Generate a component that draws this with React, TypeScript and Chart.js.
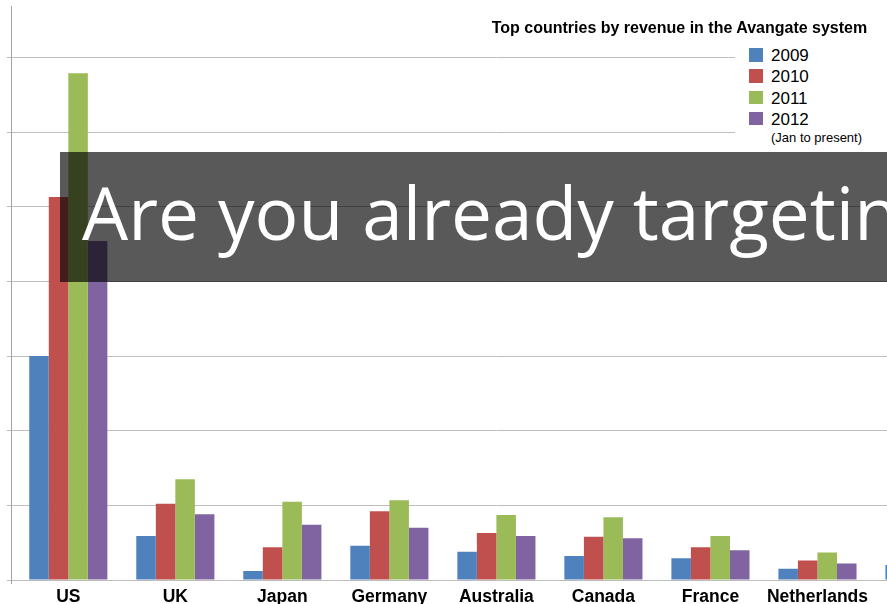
import React, { useEffect, useRef } from "react";
import { Chart, registerables } from "chart.js";

Chart.register(...registerables);

const categories = ["US", "UK", "Japan", "Germany", "Australia", "Canada", "France", "Netherlands", ""];
const seriesNames = ["2009", "2010", "2011", "2012"];
const v2009 = [3.0, 0.59, 0.12, 0.46, 0.38, 0.32, 0.29, 0.15, 0.2];
const v2010 = [5.13, 1.02, 0.44, 0.92, 0.63, 0.58, 0.44, 0.26, null];
const v2011 = [6.79, 1.35, 1.05, 1.07, 0.87, 0.84, 0.59, 0.37, null];
const v2012 = [4.54, 0.88, 0.74, 0.7, 0.59, 0.56, 0.4, 0.22, null];
const seriesColors = ["#4F81BD", "#C0504D", "#9BBB59", "#8064A2"];
const chartTitle = "Top countries by revenue in the Avangate system";
const legendNote = "(Jan to present)";
const bannerText = "Are you already targeting";

const FONT = "'Liberation Sans', Arial, sans-serif";

export default function App() {
  const ref = useRef<HTMLCanvasElement | null>(null);

  useEffect(() => {
    if (!ref.current) return;
    const axisLine = {
      id: "axisLine",
      afterDraw(chart: any) {
        const { ctx, chartArea } = chart;
        ctx.save();
        ctx.strokeStyle = "#a4a4a4";
        ctx.lineWidth = 1;
        ctx.beginPath();
        ctx.moveTo(11.5, chartArea.top);
        ctx.lineTo(11.5, chartArea.bottom + 4);
        ctx.stroke();
        ctx.restore();
      },
    };
    const seriesValues = [v2009, v2010, v2011, v2012];
    const chart = new Chart(ref.current, {
      type: "bar",
      data: {
        labels: categories,
        datasets: seriesNames.map((n, i) => ({
          label: n,
          data: seriesValues[i] as any,
          backgroundColor: seriesColors[i],
          borderWidth: 0,
          barPercentage: 1,
          categoryPercentage: 0.73,
        })),
      },
      options: {
        responsive: false,
        animation: false,
        devicePixelRatio: 1,
        layout: { padding: { top: 6, left: 0, right: 0, bottom: 0 } },
        plugins: { legend: { display: false }, tooltip: { enabled: false }, title: { display: false } },
        scales: {
          x: {
            grid: { display: false },
            border: { display: false },
            ticks: {
              padding: -1,
              color: "#000",
              font: { family: FONT, size: 17.5, weight: "bold" },
              maxRotation: 0,
              autoSkip: false,
            },
            afterFit: (s: any) => {
              s.height = 24;
            },
          },
          y: {
            min: 0,
            max: 7.69,
            border: { display: false },
            grid: { color: "#bdbdbd", lineWidth: 1, drawTicks: true, tickLength: 8 },
            ticks: { stepSize: 1, includeBounds: false, display: false },
            afterFit: (s: any) => {
              s.width = 14.8;
            },
          },
        },
      },
      plugins: [axisLine],
    });
    return () => chart.destroy();
  }, []);

  return (
    <div
      style={{
        position: "fixed",
        left: 0,
        top: 0,
        width: 887,
        height: 604,
        overflow: "hidden",
        background: "#fff",
      }}
    >
      <canvas ref={ref} width={978} height={604} style={{ display: "block", width: 978, height: 604 }} />
      <div
        style={{
          position: "absolute",
          left: 491.7,
          top: 18.8,
          fontFamily: FONT,
          fontWeight: "bold",
          fontSize: 16,
          lineHeight: "normal",
          whiteSpace: "nowrap",
          color: "#000",
        }}
      >
        {chartTitle}
      </div>
      <div
        style={{
          position: "absolute",
          left: 735,
          top: 42,
          width: 160,
          height: 108,
          background: "#fff",
        }}
      />
      {seriesNames.map((n, i) => (
        <div
          key={n}
          style={{
            position: "absolute",
            left: 749.3,
            top: 46.3 + i * 21.1,
            height: 20,
            whiteSpace: "nowrap",
            fontFamily: FONT,
            fontSize: 17,
            lineHeight: "normal",
            color: "#000",
          }}
        >
          <span
            style={{
              position: "absolute",
              left: 0,
              top: 2,
              width: 13.3,
              height: 13.3,
              background: seriesColors[i],
            }}
          />
          <span style={{ position: "absolute", left: 21.7, top: 0 }}>{n}</span>
        </div>
      ))}
      <div
        style={{
          position: "absolute",
          left: 771,
          top: 129.9,
          fontFamily: FONT,
          fontSize: 13,
          lineHeight: "normal",
          whiteSpace: "nowrap",
          color: "#000",
        }}
      >
        {legendNote}
      </div>
      <div
        style={{
          position: "absolute",
          left: 60,
          top: 152,
          width: 900,
          height: 130,
          background: "rgba(0,0,0,0.65)",
        }}
      />
      <div
        style={{
          position: "absolute",
          left: 82,
          top: 162,
          fontFamily: "'Open Sans', sans-serif",
          fontSize: 73,
          lineHeight: "normal",
          color: "#fff",
          whiteSpace: "nowrap",
        }}
      >
        {bannerText}
      </div>
    </div>
  );
}
